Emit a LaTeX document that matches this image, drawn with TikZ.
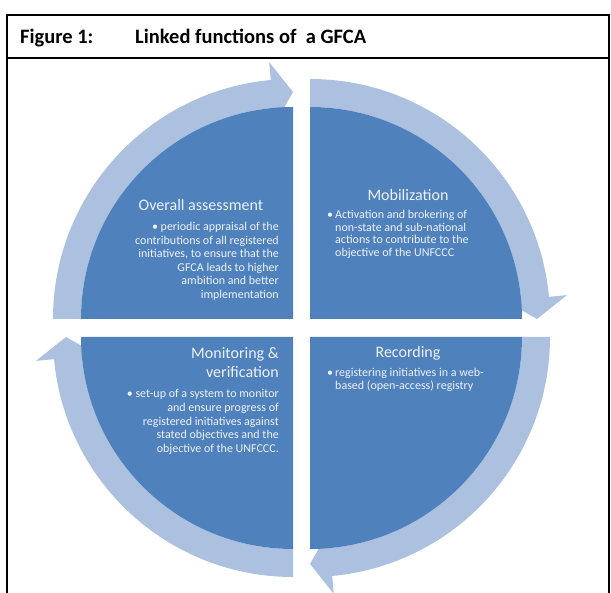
\documentclass[tikz,border=0pt]{standalone}
\usepackage{fontspec}
\setmainfont{Carlito}
\definecolor{pie}{RGB}{79,129,189}
\definecolor{band}{RGB}{172,192,224}
\definecolor{txt}{RGB}{238,242,249}
\newcommand\cycarrow[3]{%
  \pgfmathsetmacro\hb{#3+5.3}%
  \begin{scope}[shift={(#1)}]
    \fill[band] (#2:240) arc[start angle=#2, end angle=\hb, radius=240]
      -- (\hb:258) -- (#3:227) -- (\hb:196) -- (\hb:212)
      arc[start angle=\hb, end angle=#2, radius=212] -- cycle;
  \end{scope}}
\newcommand\quarterpie[3]{%
  \fill[pie] (#1) -- ++(#2:212) arc[start angle=#2, end angle=#3, radius=212] -- cycle;}
\begin{document}
\begin{tikzpicture}[x=1pt,y=1pt,
  ttl/.style={text=txt, font=\fontsize{16}{19}\selectfont, inner sep=0pt},
  bodyr/.style={text=txt, font=\fontsize{12}{13.6}\selectfont, align=right, inner sep=0pt},
  bodyl/.style={text=txt, font=\fontsize{12}{12.6}\selectfont, align=left, inner sep=0pt},
  head/.style={font=\bfseries\fontsize{20.5}{24}\selectfont, inner sep=0pt, anchor=base west}]
\useasboundingbox (0,0) rectangle (611,593);
\fill[white] (0,0) rectangle (611,593);
% frame
\draw[line width=1.5pt] (7,0) -- (7,578) -- (609,578) -- (609,0);
\draw[line width=1.5pt] (7,535) -- (609,535);
\node[head] (fig) at (20,549) {Figure 1:};
\node[head] (cap) at (135,549) {Linked functions of\ \ a GFCA};
% corners
\coordinate (tl) at (293,274);
\coordinate (tr) at (310,274);
\coordinate (bl) at (293,256);
\coordinate (br) at (310,256);
% arrows
\cycarrow{tl}{180}{90}
\cycarrow{tr}{90}{0}
\cycarrow{br}{0}{-90}
\cycarrow{bl}{-90}{-180}
% pies
\quarterpie{tl}{180}{90}
\quarterpie{tr}{90}{0}
\quarterpie{br}{0}{-90}
\quarterpie{bl}{-90}{-180}
% texts
\node[ttl] (oat) at (201,388) {Overall assessment};
\node[bodyr, anchor=north east] (oab) at (279,371) {\textbullet{} periodic appraisal of the\\contributions of all registered\\initiatives, to ensure that the\\GFCA leads to higher\\ambition and better\\implementation};
\node[ttl] (mot) at (408,398) {Mobilization};
\node[bodyl, anchor=north west] (mob) at (327,383) {\makebox[8pt][l]{\textbullet}Activation and brokering of\\\hspace*{8pt}non-state and sub-national\\\hspace*{8pt}actions to contribute to the\\\hspace*{8pt}objective of the UNFCCC};
\node[ttl, align=right, anchor=north east, font=\fontsize{16}{19}\selectfont] (mvt) at (279,246) {Monitoring \&\\verification};
\node[bodyr, anchor=north east, font=\fontsize{12}{13.8}\selectfont] (mvb) at (279,204) {\textbullet{} set-up of a system to monitor\\and ensure progress of\\registered initiatives against\\stated objectives and the\\objective of the UNFCCC.};
\node[ttl] (ret) at (408,240) {Recording};
\node[bodyl, anchor=north west] (reb) at (327,225) {\makebox[8pt][l]{\textbullet}registering initiatives in a web-\\\hspace*{8pt}based (open-access) registry};
\end{tikzpicture}
\end{document}
